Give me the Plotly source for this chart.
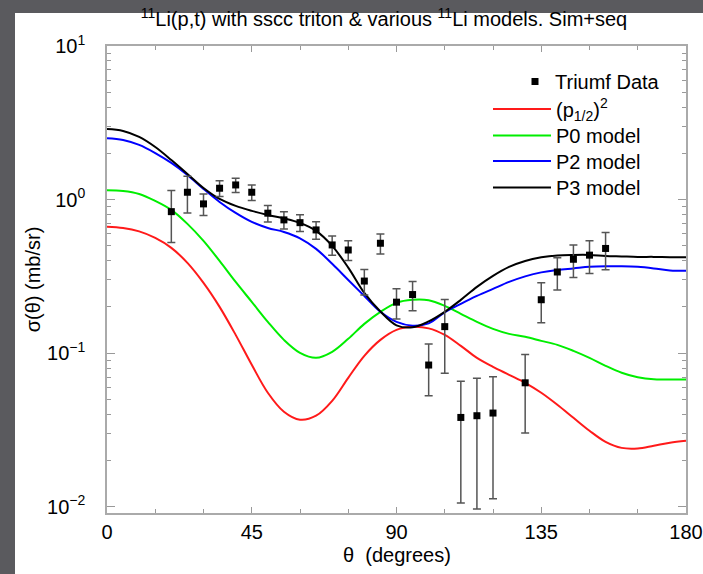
import plotly.graph_objects as go

# ---------------- data ----------------
THETA = [0, 5, 10, 15, 20, 25, 30, 35, 40, 45, 50, 55, 60, 65, 70, 75, 80, 85, 90,
         95, 100, 105, 110, 115, 120, 125, 130, 135, 140, 145, 150, 155, 160, 165,
         170, 175, 180]

P12_SQ = [0.667, 0.654, 0.621, 0.563, 0.485, 0.3875, 0.2871, 0.2004, 0.1317, 0.0841,
          0.0553, 0.0416, 0.0369, 0.0392, 0.0490, 0.0692, 0.0962, 0.1222, 0.142, 0.1485,
          0.1452, 0.1317, 0.1117, 0.0933, 0.0816, 0.0724, 0.0642, 0.0553, 0.0462, 0.0380,
          0.0313, 0.0265, 0.0242, 0.0240, 0.0250, 0.0261, 0.0269]

P0_MODEL = [1.151, 1.139, 1.089, 0.981, 0.857, 0.695, 0.539, 0.399, 0.291, 0.216,
            0.160, 0.1222, 0.1006, 0.0933, 0.1021, 0.1241, 0.1553, 0.186, 0.2128, 0.2226,
            0.221, 0.2034, 0.1805, 0.160, 0.1441, 0.1337, 0.1279, 0.1204, 0.1134, 0.1036,
            0.0933, 0.0828, 0.0746, 0.0697, 0.0676, 0.0675, 0.0675]

P2_MODEL = [2.51, 2.445, 2.27, 2.01, 1.733, 1.447, 1.174, 0.966, 0.819, 0.716,
            0.654, 0.616, 0.560, 0.478, 0.382, 0.300, 0.236, 0.186, 0.160, 0.1512,
            0.1565, 0.1845, 0.2097, 0.2362, 0.2624, 0.2913, 0.3165, 0.336, 0.3488, 0.3567,
            0.365, 0.368, 0.368, 0.365, 0.3567, 0.3462, 0.3437]

P3_MODEL = [2.88, 2.80, 2.56, 2.20, 1.81, 1.47, 1.19, 1.01, 0.910, 0.845,
            0.795, 0.755, 0.705, 0.626, 0.500, 0.361, 0.247, 0.187, 0.152, 0.1475,
            0.1612, 0.186, 0.2226, 0.2704, 0.319, 0.365, 0.399, 0.421, 0.4335, 0.4367,
            0.4367, 0.4303, 0.4271, 0.4239, 0.4239, 0.4219, 0.4219]

DATA_THETA = [20, 25, 30, 35, 40, 45, 50, 55, 60, 65, 70, 75, 80, 85, 90, 95, 100,
              105, 110, 115, 120, 130, 135, 140, 145, 150, 155]
DATA_SIGMA = [0.835, 1.117, 0.938, 1.186, 1.246, 1.117, 0.816, 0.738, 0.708, 0.635,
              0.507, 0.470, 0.295, 0.520, 0.215, 0.241, 0.0838, 0.149, 0.0382, 0.0392,
              0.0408, 0.0642, 0.223, 0.338, 0.409, 0.435, 0.481]
DATA_ERR = [0.31, 0.30, 0.15, 0.14, 0.134, 0.13, 0.10, 0.095, 0.088, 0.082,
            0.072, 0.069, 0.056, 0.078, 0.048, 0.052, 0.031, 0.075, 0.0276, 0.0295,
            0.0295, 0.034, 0.065, 0.080, 0.098, 0.105, 0.131]

X_TICKS = [0, 45, 90, 135, 180]
X_TICK_TEXT = ["0", "45", "90", "135", "180"]
Y_TICKS = [0.01, 0.1, 1, 10]
Y_TICK_TEXT = ["10<sup>\u22122</sup>", "10<sup>\u22121</sup>", "10<sup>0</sup>", "10<sup>1</sup>"]

SERIES_NAMES = ["(p<sub>1/2</sub>)<sup>2</sup>", "P0 model", "P2 model", "P3 model"]
DATA_NAME = "Triumf Data"
TITLE = "<sup>11</sup>Li(p,t) with sscc triton & various <sup>11</sup>Li models. Sim+seq"
X_TITLE = "\u03b8\u00a0 (degrees)"
Y_TITLE = "\u03c3(\u03b8) (mb/sr)"

# ---------------- figure ----------------
FONT = "Liberation Sans, Arial, Helvetica, sans-serif"
fig = go.Figure()

curves = [(SERIES_NAMES[0], P12_SQ, "#ff1a1a", "legend2"),
          (SERIES_NAMES[1], P0_MODEL, "#00ee00", "legend3"),
          (SERIES_NAMES[2], P2_MODEL, "#0000ff", "legend4"),
          (SERIES_NAMES[3], P3_MODEL, "#000000", "legend5")]
for name, vals, color, leg in curves:
    fig.add_trace(go.Scatter(x=THETA, y=vals, mode="lines", name=name, legend=leg,
                             showlegend=True,
                             line=dict(color=color, width=2, shape="spline", smoothing=1)))

fig.add_trace(go.Scatter(x=DATA_THETA, y=DATA_SIGMA, mode="markers", name=DATA_NAME,
                         legend="legend", showlegend=True,
                         marker=dict(symbol="square", size=7, color="black"),
                         error_y=dict(type="data", array=DATA_ERR, color="#555555",
                                      thickness=1.5, width=4)))

L, R, T, B = 107, 686, 46, 513
W, H = 703, 574
pw, ph = R - L, B - T


def px(xp):
    return (xp - L) / pw


def py(yp):
    return (B - yp) / ph


def leg(yc, xleft=488, iw=58):
    return dict(x=px(xleft), y=py(yc), xanchor="left", yanchor="middle",
                bgcolor="rgba(0,0,0,0)", borderwidth=0, itemwidth=iw, visible=True,
                font=dict(family=FONT, size=20, color="black"))


fig.update_layout(
    width=W, height=H, autosize=False,
    showlegend=True,
    margin=dict(l=L, r=W - R, t=T, b=H - B, pad=0, autoexpand=False),
    paper_bgcolor="#5a5a5e", plot_bgcolor="white",
    font=dict(family=FONT, size=20, color="black"),
    title=dict(text=TITLE, x=px(384), xref="paper", xanchor="center",
               y=1 - 19 / H, yref="container", yanchor="middle",
               font=dict(family=FONT, size=20, color="black")),
    legend=leg(81.5, 515, 30),
    legend2=leg(109),
    legend3=leg(135.5),
    legend4=leg(161),
    legend5=leg(187.5),
    xaxis=dict(range=[0, 180], tickmode="array", tickvals=X_TICKS, ticktext=X_TICK_TEXT,
               ticks="inside", ticklen=6, tickwidth=1.2, tickcolor="#999999",
               showline=True, linecolor="#aaaaaa", linewidth=1.5, mirror="ticks",
               showgrid=False, zeroline=False, ticklabelstandoff=0, automargin=False,
               tickfont=dict(family=FONT, size=20, color="black"),
               minor=dict(dtick=15, ticks="inside", ticklen=4, tickcolor="#999999",
                          tickwidth=1, showgrid=False)),
    yaxis=dict(type="log", range=[-2.04, 1], tickmode="array", tickvals=Y_TICKS,
               ticktext=Y_TICK_TEXT, ticks="inside", ticklen=8, tickwidth=1.2,
               tickcolor="#999999", showline=True, linecolor="#aaaaaa", linewidth=1.5,
               mirror="ticks", showgrid=False, zeroline=False, ticklabelstandoff=16,
               automargin=False,
               tickfont=dict(family=FONT, size=20, color="black"),
               minor=dict(dtick="D1", ticks="inside", ticklen=4, tickcolor="#999999",
                          tickwidth=1, showgrid=False),
               title=dict(text=Y_TITLE, standoff=1,
                          font=dict(family=FONT, size=20, color="black"))),
    annotations=[
        dict(text=X_TITLE, xref="paper", yref="paper", x=0.5, y=py(555),
             xanchor="center", yanchor="middle", showarrow=False,
             font=dict(family=FONT, size=20, color="black")),
    ],
    shapes=[
        dict(type="rect", xref="paper", yref="paper", x0=px(15), x1=px(W), y0=py(H), y1=py(13),
             fillcolor="white", line=dict(width=0), layer="below"),
    ],
)

fig.write_html("out.html",
               config={"displayModeBar": False},
               post_script="document.body.style.margin='0px';"
                           "document.body.style.overflow='hidden';")
